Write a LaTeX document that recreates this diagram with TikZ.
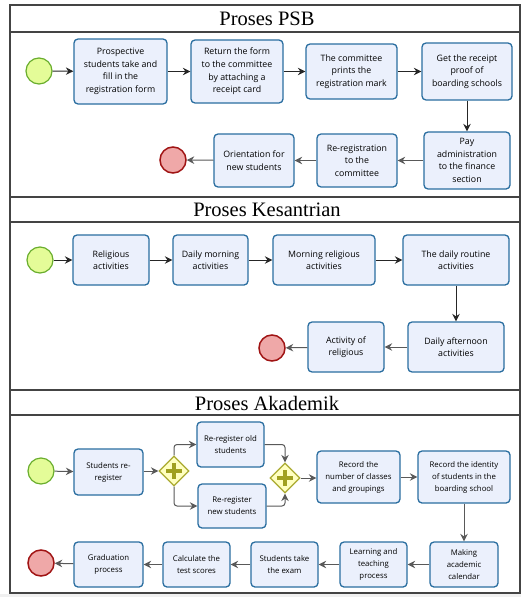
\documentclass[tikz,border=0pt]{standalone}
\usepackage{fontspec}
\setmainfont{Liberation Serif}
\newfontfamily\boxfont{Open Sans}
\usetikzlibrary{shapes.geometric,arrows.meta}
\definecolor{boxfill}{HTML}{EBF0FC}
\definecolor{boxline}{HTML}{2A6EA0}
\definecolor{startfill}{HTML}{E4FC98}
\definecolor{startline}{HTML}{6AAE2E}
\definecolor{endfill}{HTML}{EFA8A8}
\definecolor{endline}{HTML}{A01414}
\definecolor{gwfill}{HTML}{FFFFC0}
\definecolor{gwline}{HTML}{AAAA30}
\definecolor{gwplus}{HTML}{A0A020}
\definecolor{frameline}{HTML}{444444}
\begin{document}
\begin{tikzpicture}[x=1pt,y=-1pt,
  box/.style={draw=boxline, fill=boxfill, rounded corners=4pt, line width=1.3pt,
    align=center, inner sep=1pt, font=\boxfont\fontsize{8.8}{12.6}\selectfont},
  sbox/.style={box, font=\boxfont\fontsize{7.8}{12}\selectfont},
  startev/.style={circle, draw=startline, fill=startfill, line width=1.2pt, minimum size=26pt, inner sep=0pt},
  endev/.style={circle, draw=endline, fill=endfill, line width=1.5pt, minimum size=26pt, inner sep=0pt},
  gw/.style={diamond, aspect=1, draw=gwline, fill=gwfill, line width=1.2pt, minimum width=30pt, minimum height=30pt, inner sep=0pt},
  flow/.style={draw=black!85, line width=1pt, -{Stealth[length=7.5pt,width=7.5pt,inset=2.5pt]}},
  flowg/.style={flow, draw=black!65},
  title/.style={font=\fontsize{20.5}{24}\selectfont, inner sep=0pt},
  frame/.style={draw=frameline, line width=1.2pt}
]
\useasboundingbox (0,0) rectangle (521,597);
\fill[white] (0,0) rectangle (521,597);
\fill[black!6] (0,594) rectangle (521,597);
% frame
\draw[frame] (10,5) rectangle (520,593);
\draw[frame] (10,32) -- (520,32);
\draw[frame] (10,197) -- (520,197);
\draw[frame] (10,222) -- (520,222);
\draw[frame] (10,390) -- (520,390);
\draw[frame] (10,415) -- (520,415);
\node[title] (t1) at (267,19) {Proses PSB};
\node[title] (t2) at (267,210) {Proses Kesantrian};
\node[title] (t3) at (267,403) {Proses Akademik};

% PSB
\node[startev] (ps) at (39,71) {};
\node[box, minimum width=93pt, minimum height=65pt] (p1) at (120.5,71.5) {Prospective\\students take and\\fill in the\\registration form};
\node[box, minimum width=92pt, minimum height=63pt] (p2) at (237,71.5) {Return the form\\to the committee\\by attaching a\\receipt card};
\node[box, minimum width=91pt, minimum height=55pt] (p3) at (351.5,71.5) {The committee\\prints the\\registration mark};
\node[box, minimum width=90pt, minimum height=57pt] (p4) at (467,71.5) {Get the receipt\\proof of\\boarding schools};
\node[box, minimum width=86pt, minimum height=57pt] (p5) at (467,160.5) {Pay\\administration\\to the finance\\section};
\node[box, minimum width=80pt, minimum height=53pt] (p6) at (357,160.5) {Re-registration\\to the\\committee};
\node[box, minimum width=80pt, minimum height=53pt] (p7) at (254,160.5) {Orientation for\\new students};
\node[endev] (pe) at (173,160) {};
\draw[flow] (ps) -- (p1);
\draw[flow] (p1) -- (p2);
\draw[flow] (p2) -- (p3);
\draw[flow] (p3) -- (p4);
\draw[flow] (p4) -- (p5);
\draw[flowg] (p5) -- (p6);
\draw[flowg] (p6) -- (p7);
\draw[flowg] (p7) -- (pe);

% Kesantrian
\node[startev] (ks) at (40,260) {};
\node[box, minimum width=76pt, minimum height=50pt] (k1) at (111,260) {Religious\\activities};
\node[box, minimum width=75pt, minimum height=50pt] (k2) at (210.5,260) {Daily morning\\activities};
\node[box, minimum width=102pt, minimum height=50pt] (k3) at (324,260) {Morning religious\\activities};
\node[box, minimum width=106pt, minimum height=50pt] (k4) at (456,260) {The daily routine\\activities};
\node[box, minimum width=96pt, minimum height=50pt] (k5) at (456,347) {Daily afternoon\\activities};
\node[box, minimum width=76pt, minimum height=50pt] (k6) at (346,347) {Activity of\\religious};
\node[endev] (ke) at (272,348) {};
\draw[flow] (ks) -- (k1);
\draw[flow] (k1) -- (k2);
\draw[flow] (k2) -- (k3);
\draw[flow] (k3) -- (k4);
\draw[flow] (k4) -- (k5);
\draw[flowg] (k5) -- (k6);
\draw[flowg] (k6) -- (ke);

% Akademik
\node[startev] (as) at (41,471) {};
\node[sbox, minimum width=69pt, minimum height=46pt] (a1) at (108.5,472) {Students re-\\register};
\node[gw] (g1) at (174,471) {};
\draw[gwplus, line width=3.6pt] ([xshift=-8pt]g1.center) -- ([xshift=8pt]g1.center) ([yshift=-8pt]g1.center) -- ([yshift=8pt]g1.center);
\node[sbox, minimum width=67pt, minimum height=45pt] (a2) at (230.5,444.5) {Re-register old\\students};
\node[sbox, minimum width=68pt, minimum height=44pt] (a3) at (232,506) {Re-register\\new students};
\node[gw] (g2) at (285,478) {};
\draw[gwplus, line width=3.6pt] ([xshift=-8pt]g2.center) -- ([xshift=8pt]g2.center) ([yshift=-8pt]g2.center) -- ([yshift=8pt]g2.center);
\node[sbox, minimum width=83pt, minimum height=52pt] (a4) at (358.5,477) {Record the\\number of classes\\and groupings};
\node[sbox, minimum width=92pt, minimum height=52pt] (a5) at (464,477) {Record the identity\\of students in the\\boarding school};
\node[sbox, minimum width=68pt, minimum height=45pt] (a6) at (464,564.5) {Making\\academic\\calendar};
\node[sbox, minimum width=67pt, minimum height=45pt] (a7) at (373.5,564.5) {Learning and\\teaching\\process};
\node[sbox, minimum width=67pt, minimum height=45pt] (a8) at (284.5,564.5) {Students take\\the exam};
\node[sbox, minimum width=67pt, minimum height=45pt] (a9) at (196.5,564.5) {Calculate the\\test scores};
\node[sbox, minimum width=69pt, minimum height=45pt] (a10) at (108.5,564.5) {Graduation\\process};
\node[endev] (ae) at (41,563) {};
\draw[flowg] (as) -- (a1);
\draw[flowg] (a1.east |- g1) -- (g1);
\draw[flowg, rounded corners=3pt] (g1.north) |- (a2.west);
\draw[flowg, rounded corners=3pt] (g1.south) |- (a3.west);
\draw[flowg, rounded corners=3pt] (a2.east) -| (g2.north);
\draw[flowg, rounded corners=3pt] (a3.east) -| (g2.south);
\draw[flowg] (g2) -- (a4.west |- g2);
\draw[flowg] (a4) -- (a5);
\draw[flowg] (a5) -- (a6);
\draw[flowg] (a6) -- (a7);
\draw[flowg] (a7) -- (a8);
\draw[flowg] (a8) -- (a9);
\draw[flowg] (a9) -- (a10);
\draw[flowg] (a10) -- (ae);
\end{tikzpicture}
\end{document}
